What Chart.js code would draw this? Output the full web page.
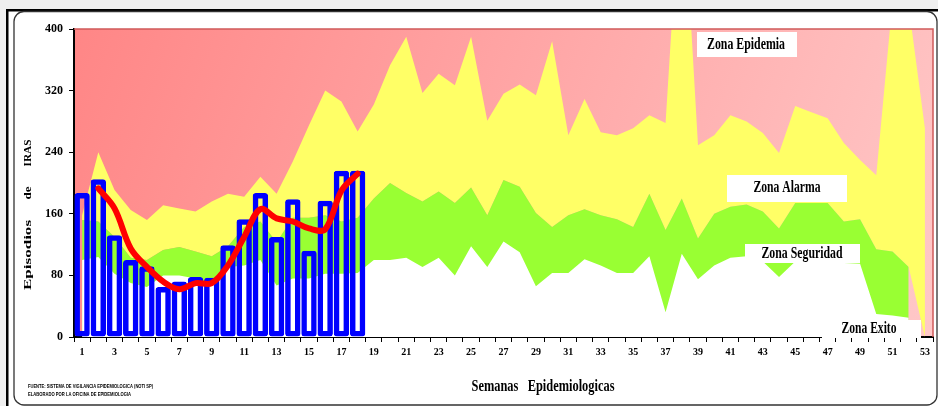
<!DOCTYPE html>
<html>
<head>
<meta charset="utf-8">
<script src="https://cdn.jsdelivr.net/npm/chart.js@4.4.0/dist/chart.umd.min.js"></script>
<style>
html,body{margin:0;padding:0;background:#fff;}
#wrap{width:938px;height:406px;position:relative;}
canvas{display:block;}
</style>
</head>
<body>
<div id="wrap"><canvas id="c" width="938" height="406"></canvas></div>
<script>
// ---------- DATA ----------
const weeks = ['1','2','3','4','5','6','7','8','9','10','11','12','13','14','15','16','17','18','19','20',
  '21','22','23','24','25','26','27','28','29','30','31','32','33','34','35','36','37','38','39','40',
  '41','42','43','44','45','46','47','48','49','50','51','52','53'];

const yTicks = [0, 80, 160, 240, 320, 400];

// Upper limit of Zona Alarma (epidemic threshold)
const alarmZone = [158,240,191,165,152,171,167,163,176,186,182,208,186,228,275,320,306,267,302,353,
  390,317,342,327,390,281,316,328,314,384,262,309,266,262,271,288,278,615,249,262,
  288,280,265,239,300,292,284,252,230,210,436,430,271];

// Upper limit of Zona Seguridad
const securityZone = [152,150,130,103,100,113,117,111,105,118,143,150,123,155,155,158,150,155,180,200,
  187,176,189,174,194,158,204,195,161,143,158,166,158,153,143,186,139,180,128,160,
  169,172,163,141,174,174,174,150,153,114,111,91,null];

// Lower edge of Zona Alarma (same as Seguridad, closing to 0 in week 53)
const alarmBase = [152,150,130,103,100,113,117,111,105,118,143,150,123,155,155,158,150,155,180,200,
  187,176,189,174,194,158,204,195,161,143,158,166,158,153,143,186,139,180,128,160,
  169,172,163,141,174,174,174,150,153,114,111,91,0];

// Upper limit of Zona Exito
const successZone = [100,104,82,70,65,80,80,76,69,91,93,100,67,76,76,82,82,83,100,100,
  103,91,103,80,118,91,124,110,66,83,83,101,93,83,83,105,32,108,75,93,
  103,105,98,78,98,98,98,96,95,30,28,25,null];

// Episodes per week (current year)
const cases = [187,205,132,100,92,65,72,78,77,119,153,187,130,179,112,177,216,216];

// Smoothed trend (red line)
const trend = [null,193,167,115,91,72,62,70,70,93,130,166,154,150,141,140,190,212];

const zoneLabels = ['Zona Epidemia','Zona Alarma','Zona Seguridad','Zona Exito'];
const yTitleWords = ['Episodios','de','IRAS'];
const xTitle = 'Semanas   Epidemiologicas';
const footLines = ['FUENTE: SISTEMA DE VIGILANCIA EPIDEMIOLOGICA (NOTI SP)',
                   'ELABORADO POR LA OFICINA DE EPIDEMIOLOGIA'];

// ---------- LAYOUT / STYLE ----------
const SERIF = '"Liberation Serif", "Times New Roman", serif';
const zoneBoxes = [
  {x:697, y:32,  w:100, h:25, cx:746, cy:45,  tw:78},
  {x:727, y:175, w:120, h:27, cx:787, cy:188, tw:67},
  {x:745, y:244, w:115, h:19, cx:802, cy:254, tw:81},
  {x:822, y:320, w:99,  h:18, cx:869, cy:329, tw:55}
];

function fitText(ctx, text, cx, cy, tw, font, color) {
  ctx.save();
  ctx.font = font;
  const w = ctx.measureText(text).width;
  ctx.translate(cx, cy);
  ctx.scale(tw / w, 1);
  ctx.textAlign = 'center';
  ctx.textBaseline = 'middle';
  ctx.fillStyle = color || '#000';
  ctx.fillText(text, 0, 0);
  ctx.restore();
}

const decor = {
  id: 'decor',
  beforeDraw(chart) {
    const ctx = chart.ctx, a = chart.chartArea;
    ctx.save();
    ctx.fillStyle = '#efefef';
    ctx.fillRect(0, 0, 938, 406);
    ctx.fillStyle = '#ffffff';
    ctx.fillRect(7, 10, 931, 396);
    ctx.fillStyle = '#000';
    ctx.fillRect(6, 9, 932, 2.5);
    ctx.fillRect(6, 9, 2.5, 397);
    ctx.strokeStyle = '#333';
    ctx.lineWidth = 1.3;
    ctx.beginPath();
    ctx.roundRect(14, 11.5, 923, 393.5, 10);
    ctx.stroke();
    // plot area background (Zona Epidemia)
    const g = ctx.createLinearGradient(a.left, a.top, a.right, a.bottom);
    g.addColorStop(0, '#FF8686');
    g.addColorStop(1, '#FFC8C8');
    ctx.fillStyle = g;
    ctx.fillRect(a.left, a.top, a.right - a.left, a.bottom - a.top);
    ctx.restore();
  },
  afterDatasetsDraw(chart) {
    const ctx = chart.ctx, a = chart.chartArea;
    ctx.save();
    ctx.strokeStyle = '#D05A5A';
    ctx.lineWidth = 1.5;
    ctx.beginPath();
    ctx.moveTo(a.left, a.top);
    ctx.lineTo(a.right, a.top);
    ctx.lineTo(a.right, a.bottom);
    ctx.stroke();
    ctx.restore();
  },
  afterDraw(chart) {
    const ctx = chart.ctx;
    // zone labels
    zoneLabels.forEach((t, i) => {
      const b = zoneBoxes[i];
      ctx.fillStyle = '#fff';
      ctx.fillRect(b.x, b.y, b.w, b.h);
      fitText(ctx, t, b.cx, b.cy, b.tw, 'bold 16px ' + SERIF);
    });
    // y axis title (rotated)
    const yPos = [{c:255, w:70}, {c:193, w:13}, {c:153, w:27}];
    yTitleWords.forEach((t, i) => {
      ctx.save();
      ctx.translate(28, yPos[i].c);
      ctx.rotate(-Math.PI / 2);
      fitText(ctx, t, 0, 0, yPos[i].w, 'bold 11px ' + SERIF);
      ctx.restore();
    });
    // x axis title
    fitText(ctx, xTitle, 543, 387, 143, 'bold 16px ' + SERIF);
    // footnote
    fitText(ctx, footLines[0], 90.5, 387, 125, 'bold 5px "Liberation Sans", sans-serif');
    fitText(ctx, footLines[1], 79.5, 394.5, 103, 'bold 5px "Liberation Sans", sans-serif');
  }
};

const ctx = document.getElementById('c').getContext('2d');
new Chart(ctx, {
  type: 'bar',
  data: {
    labels: weeks,
    datasets: [
      {type:'line', label:'Tendencia', data: trend, borderColor:'#FF0000', borderWidth:6,
       pointRadius:0, tension:0.35, fill:false, order:0, borderCapStyle:'round', borderJoinStyle:'round'},
      {type:'bar', label:'Casos', data: cases, backgroundColor:'rgba(0,0,0,0)', borderColor:'#0000FF',
       borderWidth:5.5, borderSkipped:false, borderRadius:3, barPercentage:1, categoryPercentage:0.95, order:1},
      {type:'line', label:'Zona Exito', data: successZone, fill:'origin', backgroundColor:'#FFFFFF',
       borderColor:'rgba(0,0,0,0)', borderWidth:0, pointRadius:0, tension:0, order:2},
      {type:'line', label:'Zona Seguridad', data: securityZone, fill:'origin', backgroundColor:'#99FF33',
       borderColor:'rgba(0,0,0,0)', borderWidth:0, pointRadius:0, tension:0, order:3},
      {type:'line', label:'Zona Alarma', data: alarmZone, fill:'+1', backgroundColor:'#FFFF66',
       borderColor:'rgba(0,0,0,0)', borderWidth:0, pointRadius:0, tension:0, order:4},
      {type:'line', label:'base', data: alarmBase, fill:false,
       borderColor:'rgba(0,0,0,0)', borderWidth:0, pointRadius:0, tension:0, order:5}
    ]
  },
  options: {
    responsive: false,
    animation: false,
    devicePixelRatio: 1,
    layout: {padding: {top: 29, right: 5, bottom: 0, left: 0}},
    plugins: {legend: {display: false}, tooltip: {enabled: false}, title: {display: false}},
    scales: {
      x: {
        offset: true,
        grid: {display: true, drawOnChartArea: false, drawTicks: true, tickLength: 5, color: '#000', offset: true, lineWidth: 1},
        border: {display: true, color: '#000', width: 2},
        ticks: {autoSkip: false, maxRotation: 0, minRotation: 0, padding: 4, color: '#000',
          font: {family: SERIF, size: 10, weight: 'bold'},
          callback: (v, i) => (i % 2 === 0 ? weeks[i] : '')},
        afterFit: s => { s.height = 69; }
      },
      y: {
        min: 0, max: 400,
        afterBuildTicks: s => { s.ticks = yTicks.map(v => ({value: v})); },
        ticks: {padding: 6, color: '#000', font: {family: SERIF, size: 12, weight: 'bold'}},
        grid: {display: true, drawOnChartArea: false, tickLength: 5, color: '#000', lineWidth: 1},
        border: {display: true, color: '#000', width: 2},
        afterFit: s => { s.width = 74; }
      }
    }
  },
  plugins: [decor]
});
</script>
</body>
</html>
